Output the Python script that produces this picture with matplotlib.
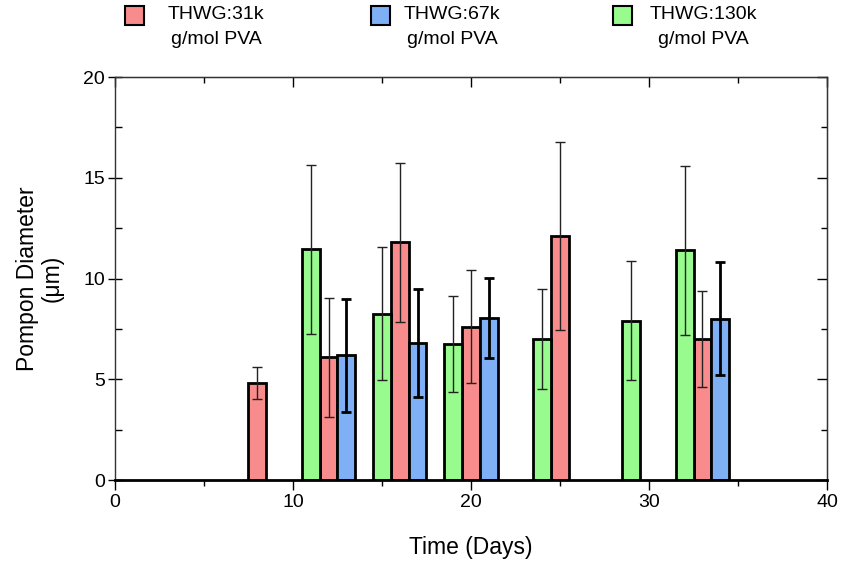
import matplotlib.pyplot as plt
from matplotlib.patches import Rectangle

plt.rcParams['font.family'] = ['Liberation Sans', 'DejaVu Sans']

# series: days, mean diameter, error
labels = ["THWG:31k\ng/mol PVA", "THWG:67k\ng/mol PVA", "THWG:130k\ng/mol PVA"]
colors = ["#f88b8b", "#7fb0f5", "#98fb8d"]

days_31k = [8, 12, 16, 20, 25, 33]
diam_31k = [4.8, 6.1, 11.8, 7.6, 12.1, 7.0]
err_31k = [0.8, 2.95, 3.95, 2.8, 4.65, 2.4]

days_67k = [13, 17, 21, 34]
diam_67k = [6.2, 6.8, 8.05, 8.0]
err_67k = [2.8, 2.7, 2.0, 2.8]

days_130k = [11, 15, 19, 24, 29, 32]
diam_130k = [11.45, 8.25, 6.75, 7.0, 7.9, 11.4]
err_130k = [4.2, 3.3, 2.4, 2.5, 2.95, 4.2]

fig = plt.figure(figsize=(8.41, 5.65), dpi=100)
ax = fig.add_axes([0.1367, 0.1504, 0.8467, 0.7133])

series = [
    (days_31k, diam_31k, err_31k, colors[0], dict(elinewidth=1.0, capthick=1.0, ecolor="#222222")),
    (days_67k, diam_67k, err_67k, colors[1], dict(elinewidth=2.0, capthick=2.0, ecolor="black")),
    (days_130k, diam_130k, err_130k, colors[2], dict(elinewidth=1.0, capthick=1.0, ecolor="#222222")),
]
for d, v, e, c, eb in series:
    ax.bar(d, v, width=1.0, color=c, edgecolor="black", linewidth=2, zorder=2)
    ax.errorbar(d, v, yerr=e, fmt="none", capsize=3.5, zorder=3, **eb)

ax.set_xlim(0, 40)
ax.set_ylim(0, 20)
ax.set_xticks([0, 10, 20, 30, 40])
ax.set_xticks([5, 15, 25, 35], minor=True)
ax.set_yticks([0, 5, 10, 15, 20])
ax.set_yticks([2.5, 7.5, 12.5, 17.5], minor=True)

ax.tick_params(axis="x", which="major", direction="out", length=7, width=1, labelsize=14, pad=3)
ax.tick_params(axis="x", which="minor", direction="out", length=4, width=1)
ax.tick_params(axis="y", which="major", direction="inout", length=10, width=1, labelsize=14, pad=2)
ax.tick_params(axis="y", which="minor", direction="in", length=5, width=1)

for s in ["left", "right", "top"]:
    ax.spines[s].set_linewidth(1.0)
    ax.spines[s].set_color("#333333")
ax.spines["bottom"].set_linewidth(2.0)

# top and right ticks pointing inwards
top = ax.secondary_xaxis("top")
top.set_xticks([0, 10, 20, 30, 40])
top.set_xticks([5, 15, 25, 35], minor=True)
top.tick_params(which="major", direction="in", length=7, width=1, labeltop=False)
top.tick_params(which="minor", direction="in", length=4, width=1)
right = ax.secondary_yaxis("right")
right.set_yticks([0, 5, 10, 15, 20])
right.set_yticks([2.5, 7.5, 12.5, 17.5], minor=True)
right.tick_params(which="major", direction="in", length=7, width=1, labelright=False)
right.tick_params(which="minor", direction="in", length=4, width=1)

ax.set_xlabel("Time (Days)", fontsize=16.5, labelpad=18)
ax.set_ylabel("Pompon Diameter\n(μm)", fontsize=16.5, labelpad=14, multialignment="center",
              linespacing=1.1)

# legend across the top
sq_x = [125, 371, 613]
txt_x = [216, 452, 703]
W, H = 841, 565
for i in range(3):
    fig.patches.append(Rectangle((sq_x[i] / W, 1 - 25 / H), 19 / W, 19 / H,
                                 transform=fig.transFigure, facecolor=colors[i],
                                 edgecolor="black", linewidth=1.5))
    fig.text(txt_x[i] / W, 1 - 6 / H, labels[i], ha="center", va="top",
             multialignment="center", fontsize=14, linespacing=1.6)

fig.savefig("out.png", dpi=100)
